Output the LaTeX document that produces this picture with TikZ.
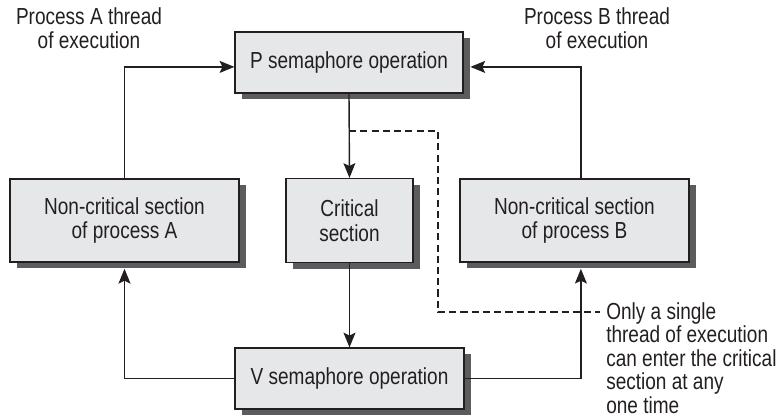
\documentclass[tikz,border=0pt]{standalone}
\usepackage{fontspec}
\setmainfont{Liberation Sans}[FakeStretch=0.82]
\usepackage{xcolor}
\usepackage{tikz}
\usetikzlibrary{arrows.meta, positioning, shadows}
\definecolor{boxgray}{RGB}{230, 231, 233}
\definecolor{shadegray}{RGB}{92, 92, 94}
\definecolor{inkgray}{RGB}{35, 31, 32}

\begin{document}
\begin{tikzpicture}[
    x=0.025cm, y=-0.025cm,
    font=\fontsize{16.5}{17.5}\selectfont,
    opbox/.style={rectangle, draw=inkgray, fill=boxgray, line width=0.8pt, inner sep=0pt, align=center, text=inkgray,
      drop shadow={shadow xshift=0.17cm, shadow yshift=-0.155cm, fill=shadegray, opacity=1}},
    flow/.style={-{Stealth[length=10.5pt, width=8.5pt, inset=2pt]}, line width=1pt, color=inkgray},
    note/.style={inner sep=0pt, text=inkgray}
  ]
  \useasboundingbox (0,0) rectangle (778,417);
  \node[opbox, minimum width=5.7cm, minimum height=1.525cm] (P) at (349,62.5) {P semaphore operation};
  \node[opbox, minimum width=5.725cm, minimum height=2.075cm] (A) at (124.5,220.5) {Non-critical section\\of process A};
  \node[opbox, minimum width=3.175cm, minimum height=2.1cm] (C) at (349.5,220.5) {Critical\\section};
  \node[opbox, minimum width=5.725cm, minimum height=2.075cm] (B) at (574.5,220.5) {Non-critical section\\of process B};
  \node[opbox, minimum width=5.725cm, minimum height=1.525cm] (V) at (349.5,378.5) {V semaphore operation};

  \node[note, anchor=north, align=center] (threadA) at (89,7) {Process A thread\\of execution};
  \node[note, anchor=north, align=center] (threadB) at (597,7) {Process B thread\\of execution};
  \node[note, anchor=north west, align=left, font=\fontsize{16.5}{16.8}\selectfont] (only) at (606,302) {Only a single\\thread of execution\\can enter the critical\\section at any\\one time};

  \draw[flow] (A.north) |- ([yshift=-0.11cm]P.west);
  \draw[flow] ([xshift=0.16cm]B.north) |- ([xshift=0.17cm,yshift=-0.11cm]P.east);
  \draw[flow] (P.south) -- (C.north);
  \draw[flow] (C.south) -- (V.north);
  \draw[flow] (V.west) -| ([yshift=-0.155cm]A.south);
  \draw[flow] (V.east) -| ([xshift=0.16cm,yshift=-0.155cm]B.south);
  % only one thread at a time
  \coordinate (split) at (349,131);
  \coordinate (turn) at (438,312);
  \coordinate (noteend) at (600,312);
  \draw[inkgray, line width=1pt, dash pattern=on 5pt off 3pt] (split) -| (turn) -- (noteend);
\end{tikzpicture}
\end{document}
